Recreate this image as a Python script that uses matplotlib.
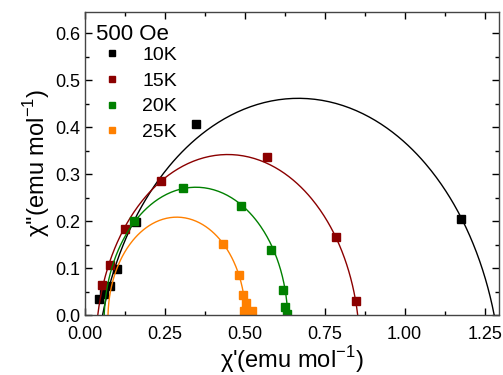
import numpy as np
import matplotlib.pyplot as plt
from matplotlib.ticker import MultipleLocator

plt.rcParams['font.family'] = ['Liberation Sans', 'DejaVu Sans']
plt.rcParams['mathtext.fontset'] = 'custom'
plt.rcParams['mathtext.rm'] = 'Liberation Sans'

# measured chi' / chi'' points (emu/mol)
x10 = [0.044, 0.059, 0.078, 0.100, 0.159, 0.347, 1.175]
y10 = [0.034, 0.045, 0.062, 0.098, 0.198, 0.406, 0.204]
x15 = [0.053, 0.078, 0.125, 0.2375, 0.569, 0.784, 0.847]
y15 = [0.064, 0.106, 0.183, 0.285, 0.336, 0.166, 0.030]
x20 = [0.153, 0.306, 0.4875, 0.581, 0.619, 0.625, 0.631]
y20 = [0.200, 0.270, 0.232, 0.138, 0.053, 0.017, 0.002]
x25 = [0.431, 0.481, 0.494, 0.503, 0.497, 0.522]
y25 = [0.151, 0.085, 0.043, 0.026, 0.009, 0.009]

# generalized Debye fit parameters: chi_S, chi_T, alpha
fit10 = (0.055, 1.28, 0.178)
fit15 = (0.040, 0.853, 0.11)
fit20 = (0.060, 0.634, 0.034)
fit25 = (0.072, 0.502, 0.02)

labels = ['10K', '15K', '20K', '25K']
colors = ['black', '#8b0000', '#008000', '#ff8000']


def cole_cole(chis, chit, alpha):
    wt = np.logspace(-5, 5, 800)
    chi = chis + (chit - chis) / (1 + (1j * wt) ** (1 - alpha))
    return chi.real, -chi.imag


fig = plt.figure(figsize=(5.03, 3.75), dpi=100)
ax = fig.add_axes([0.169, 0.16, 0.823, 0.809])

series = [(x10, y10, fit10), (x15, y15, fit15), (x20, y20, fit20), (x25, y25, fit25)]
for (xs, ys, fit), lab, c in zip(series, labels, colors):
    fx, fy = cole_cole(*fit)
    ax.plot(fx, fy, '-', color=c, lw=1.0)
    ax.plot(xs, ys, 's', color=c, ms=6, ls='none', label=lab)

ax.set_xlim(0, 1.295)
ax.set_ylim(0, 0.646)
ax.xaxis.set_major_locator(MultipleLocator(0.25))
ax.xaxis.set_minor_locator(MultipleLocator(0.125))
ax.yaxis.set_major_locator(MultipleLocator(0.1))
ax.yaxis.set_minor_locator(MultipleLocator(0.05))
ax.xaxis.set_major_formatter(plt.FormatStrFormatter('%.2f'))
ax.yaxis.set_major_formatter(plt.FormatStrFormatter('%.1f'))
ax.tick_params(which='both', direction='in', top=True, right=True, labelsize=13)
ax.tick_params(which='major', length=5, width=1)
ax.tick_params(which='minor', length=3, width=1)
ax.tick_params(axis='x', pad=8)
for s in ax.spines.values():
    s.set_color('#444444')
    s.set_linewidth(1)

ax.set_xlabel("χ'(emu mol$^{-1}$)", fontsize=17, labelpad=1)
ax.set_ylabel("χ''(emu mol$^{-1}$)", fontsize=17, labelpad=2)

ax.text(0.027, 0.906, '500 Oe', transform=ax.transAxes, fontsize=16,
        ha='left', va='baseline')
ax.legend(loc='upper left', frameon=False, fontsize=14, markerscale=0.8,
          handlelength=1.6, handletextpad=0.75, labelspacing=0.42,
          borderaxespad=0, borderpad=0, bbox_to_anchor=(0.028, 0.886))

fig.savefig('out.png', dpi=100)
